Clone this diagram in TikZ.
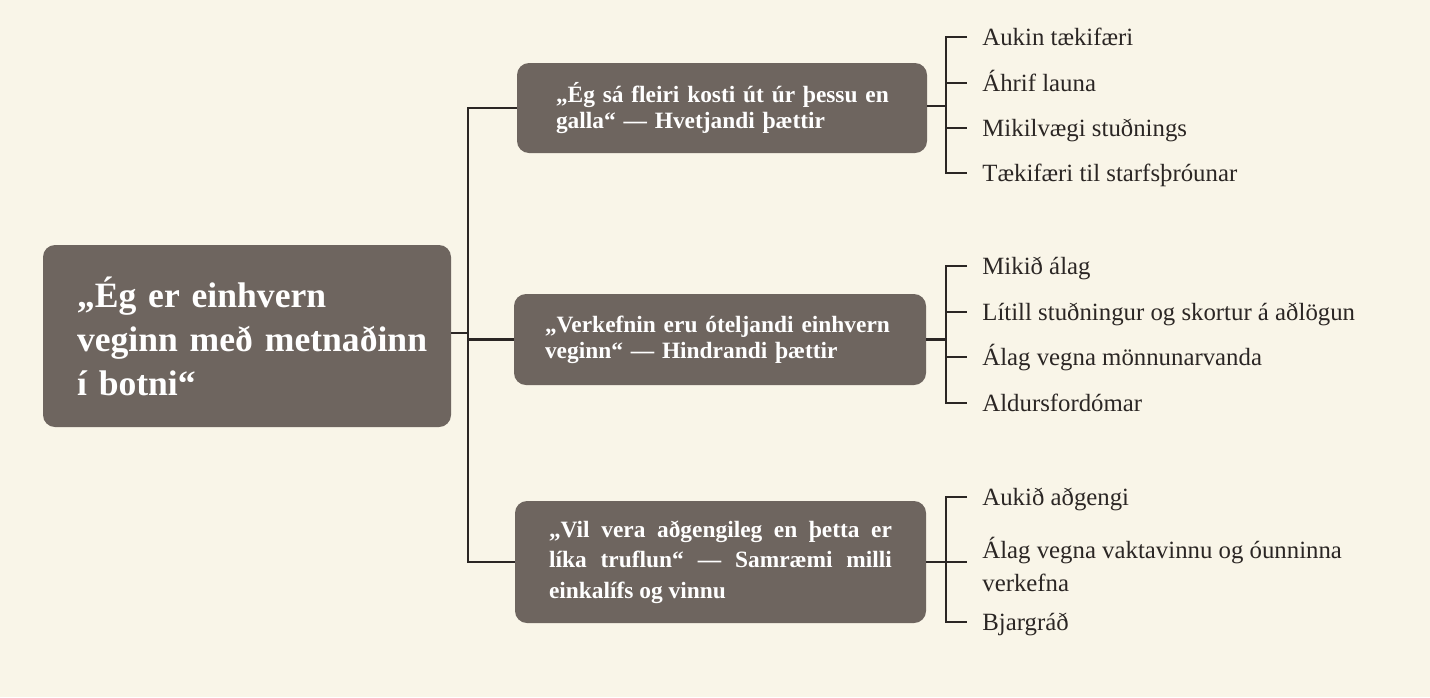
\documentclass[tikz,border=0pt]{standalone}
\usepackage{fontspec}
\setmainfont{Liberation Serif}
\definecolor{bg}{HTML}{F9F5E8}
\definecolor{boxc}{HTML}{6E655F}
\definecolor{linec}{HTML}{2B2624}
\begin{document}
\begin{tikzpicture}[x=0.5pt,y=-0.5pt,
  mainbox/.style={fill=boxc, rounded corners=6pt, text=white, font=\bfseries\fontsize{17.8}{22}\selectfont, align=left, minimum width=204pt, minimum height=91pt, inner ysep=0pt},
  subbox/.style={fill=boxc, rounded corners=6pt, text=white, font=\bfseries\fontsize{11.7}{13}\selectfont, minimum width=205pt, inner ysep=0pt},
  itemfont/.style={text=linec, font=\fontsize{12.4}{16.5}\selectfont, inner xsep=7.5pt, inner ysep=0pt},
  item/.style={itemfont, anchor=west, text height=8.2pt, text depth=0pt},
  conn/.style={draw=linec, line width=1.3pt}]
\fill[bg] (0,0) rectangle (1430,697);
\useasboundingbox (0,0) rectangle (1430,697);
% main box
\node[mainbox, text width=170pt, inner xsep=17pt] (M) at (247,336) {\mbox{„Ég er einhvern}\\\mbox{veginn með metnaðinn}\\\mbox{í botni“}};
% sub boxes
\node[subbox, text width=166pt, inner xsep=19pt, align=left, minimum height=45pt] (B1) at (722,108) {\mbox{„Ég sá fleiri kosti út úr þessu en}\\\mbox{galla“ — Hvetjandi þættir}};
\node[subbox, text width=175pt, inner xsep=15.5pt, align=left, minimum height=45.5pt] (B2) at (720,339.5) {\mbox{„Verkefnin eru óteljandi einhvern}\\\mbox{veginn“ — Hindrandi þættir}};
\node[subbox, text width=171.5pt, inner xsep=17pt, align=justify, minimum height=61pt, font=\bfseries\fontsize{11.7}{15.3}\selectfont] (B3) at (720.5,562) {„Vil vera aðgengileg en þetta er\linebreak líka truflun“ — Samræmi milli\linebreak einkalífs og vinnu};
% items group 1
\node[item] (I11) at (967,37) {Aukin tækifæri};
\node[item] (I12) at (967,83) {Áhrif launa};
\node[item] (I13) at (967,128) {Mikilvægi stuðnings};
\node[item] (I14) at (967,173) {Tækifæri til starfsþróunar};
% items group 2
\node[item] (I21) at (967,266) {Mikið álag};
\node[item] (I22) at (967,312) {Lítill stuðningur og skortur á aðlögun};
\node[item] (I23) at (967,357) {Álag vegna mönnunarvanda};
\node[item] (I24) at (967,403) {Aldursfordómar};
% items group 3
\node[item] (I31) at (967,497) {Aukið aðgengi};
\node[itemfont, anchor=west, align=left] (I32) at (967,564) {Álag vegna vaktavinnu og óunninna\\verkefna};
\node[item] (I33) at (967,622) {Bjargráð};
% trunk
\coordinate (t) at (468,333);
\draw[conn] (M.east |- t) -- (t);
\draw[conn] (B1.west) -| (t) |- (B3.west);
\draw[conn] (t |- B2.west) -- (B2.west);
% bracket 1
\coordinate (k1) at (946,106);
\draw[conn] (B1.east |- k1) -- (k1);
\draw[conn] (I11.west) -| (k1) |- (I14.west);
\draw[conn] (k1 |- I12.west) -- (I12.west);
\draw[conn] (k1 |- I13.west) -- (I13.west);
% bracket 2
\coordinate (k2) at (946,339.5);
\draw[conn] (B2.east |- k2) -- (k2);
\draw[conn] (I21.west) -| (k2) |- (I24.west);
\draw[conn] (k2 |- I22.west) -- (I22.west);
\draw[conn] (k2 |- I23.west) -- (I23.west);
% bracket 3
\coordinate (k3) at (946,562);
\draw[conn] (B3.east |- k3) -- (k3);
\draw[conn] (I31.west) -| (k3) |- (I33.west);
\draw[conn] (k3) -- (k3 -| I32.west);
\end{tikzpicture}
\end{document}
